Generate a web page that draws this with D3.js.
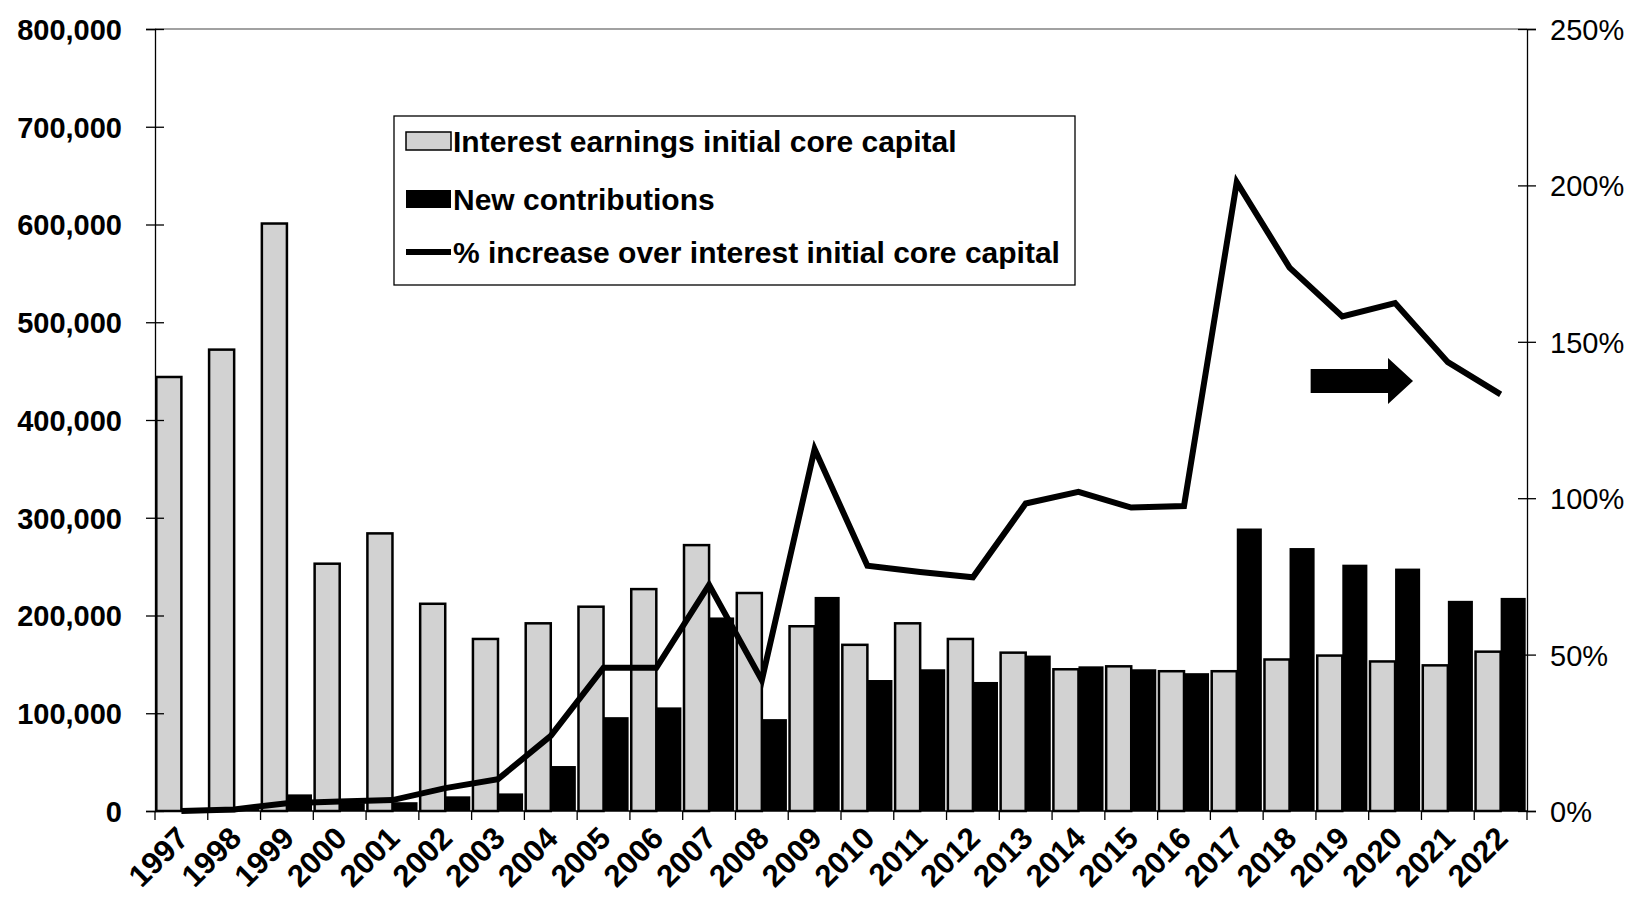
<!DOCTYPE html>
<html>
<head>
<meta charset="utf-8">
<script src="https://cdn.jsdelivr.net/npm/d3@7"></script>
<style>
    body { margin: 0; background: #fff; }
    svg { font-family: "Liberation Sans", Arial, Helvetica, sans-serif; }
</style>
</head>
<body>
<div class="bar-chart"></div>
<script>
const years = ["1997", "1998", "1999", "2000", "2001", "2002", "2003", "2004", "2005",
    "2006", "2007", "2008", "2009", "2010", "2011", "2012", "2013", "2014", "2015",
    "2016", "2017", "2018", "2019", "2020", "2021", "2022"]

// interest earnings on the initial core capital
const interestEarnings = [444000, 472000, 601000, 253000, 284000, 212000, 176000, 192000, 209000,
    227000, 272000, 223000, 189000, 170000, 192000, 176000, 162000, 145000, 148000,
    143000, 143000, 155000, 159000, 153000, 149000, 163000]

const newContributions = [0, 2000, 17000, 8000, 9000, 15000, 18000, 46000, 96000,
    106000, 198000, 94000, 219000, 134000, 145000, 132000, 159000, 148000, 145000,
    141000, 289000, 269000, 252000, 248000, 215000, 218000]

// % increase over interest initial core capital (right axis)
const pctIncrease = [0, 0.5, 2.5, 3, 3.5, 7.3, 10.2, 24, 45.8,
    45.8, 72.3, 41.8, 115.7, 78.4, 76.4, 74.7, 98.3, 102, 97,
    97.5, 201, 173.7, 158.1, 162.4, 143.5, 133.2]

const leftTicks = [0, 100000, 200000, 300000, 400000, 500000, 600000, 700000, 800000]
const rightTicks = [0, 50, 100, 150, 200, 250]

const legendLabels = ["Interest earnings initial core capital", "New contributions",
    "% increase over interest initial core capital"]

// arrow annotation: band units along x, % on right axis
const arrowFrom = 21.9, arrowTo = 23.84, arrowPct = 137.5

function makeChart() {
    const margin = {top: 29, right: 109, bottom: 93, left: 155},
        width = 1636 - margin.left - margin.right,
        height = 904 - margin.top - margin.bottom;

    const grey = "#d2d2d2"

    const svg = d3.select(".bar-chart")
        .append("svg")
            .attr("width", width + margin.left + margin.right)
            .attr("height", height + margin.top + margin.bottom)
        .append("g")
        .attr("transform", "translate(" + margin.left + "," + margin.top + ")");

    const x = d3.scaleBand()
        .range([0, width])
        .domain(years)
        .paddingInner(0.05)
        .paddingOuter(0.025)

    const xSub = d3.scaleBand()
        .domain(["interest", "contrib"])
        .range([0, x.bandwidth()])

    const yLeft = d3.scaleLinear().domain([0, 800000]).range([height, 0])
    const yRight = d3.scaleLinear().domain([0, 250]).range([height, 0])

    const rows = years.map((year, i) => ({
        year: year,
        interest: interestEarnings[i],
        contrib: newContributions[i],
        pct: pctIncrease[i]
    }))

    // top frame line
    svg.append("line")
        .attr("x1", 0).attr("x2", width)
        .attr("y1", 0).attr("y2", 0)
        .attr("stroke", "#444").attr("stroke-width", 1.2)

    // bars
    svg.selectAll(".interest-bar")
        .data(rows)
        .enter()
        .append("rect")
            .attr("class", "interest-bar")
            .attr("x", d => x(d.year) + xSub("interest"))
            .attr("y", d => yLeft(d.interest))
            .attr("width", xSub.bandwidth())
            .attr("height", d => height - yLeft(d.interest))
            .attr("fill", grey)
            .attr("stroke", "#000")
            .attr("stroke-width", 2.5)

    svg.selectAll(".contrib-bar")
        .data(rows)
        .enter()
        .append("rect")
            .attr("class", "contrib-bar")
            .attr("x", d => x(d.year) + xSub("contrib"))
            .attr("y", d => yLeft(d.contrib))
            .attr("width", xSub.bandwidth())
            .attr("height", d => height - yLeft(d.contrib))
            .attr("fill", "#000")

    // baseline and category ticks between bands
    svg.append("line")
        .attr("x1", 0).attr("x2", width)
        .attr("y1", height).attr("y2", height)
        .attr("stroke", "#000").attr("stroke-width", 1.5)

    svg.selectAll(".cat-tick")
        .data(d3.range(years.length + 1))
        .enter()
        .append("line")
            .attr("x1", i => i * x.step())
            .attr("x2", i => i * x.step())
            .attr("y1", height)
            .attr("y2", height + 9)
            .attr("stroke", "#000")
            .attr("stroke-width", 1.3)

    // line series
    const line = d3.line()
        .x(d => x(d.year) + x.bandwidth() / 2)
        .y(d => yRight(d.pct))

    svg.append("path")
        .datum(rows)
        .attr("d", line)
        .attr("fill", "none")
        .attr("stroke", "#000")
        .attr("stroke-width", 6)
        .attr("stroke-linejoin", "miter")

    // left axis
    const leftAxis = svg.append("g")
        .call(d3.axisLeft(yLeft).tickValues(leftTicks).tickFormat(d3.format(",")).tickSize(9).tickPadding(24))
    leftAxis.select(".domain").attr("stroke-width", 1.3)
    leftAxis.selectAll(".tick line").attr("x1", 9).attr("stroke-width", 1.3)
    leftAxis.selectAll("text")
        .attr("font-size", 29)
        .attr("font-weight", "bold")
        .attr("fill", "#000")
        .attr("dy", "0.36em")

    // right axis
    const rightAxis = svg.append("g")
        .attr("transform", "translate(" + width + ",0)")
        .call(d3.axisRight(yRight).tickValues(rightTicks).tickFormat(d => d + "%").tickSize(9).tickPadding(14))
    rightAxis.select(".domain").attr("stroke-width", 1.3)
    rightAxis.selectAll(".tick line").attr("x1", -9).attr("stroke-width", 1.3)
    rightAxis.selectAll("text")
        .attr("font-size", 29)
        .attr("fill", "#000")
        .attr("dy", "0.36em")

    // year labels
    const bottomAxis = svg.append("g")
        .attr("transform", "translate(0," + height + ")")
        .call(d3.axisBottom(x).tickSize(0).tickPadding(0))
    bottomAxis.select(".domain").remove()
    bottomAxis.selectAll("text")
        .attr("font-size", 31)
        .attr("font-weight", "bold")
        .attr("fill", "#000")
        .attr("x", 0)
        .attr("y", 0)
        .attr("dy", 0)
        .style("text-anchor", "end")
        .attr("transform", "translate(9,29) rotate(-45)")

    // arrow annotation
    const ax0 = arrowFrom * x.step(), ax1 = arrowTo * x.step(), ay = yRight(arrowPct)
    const headLen = 25
    svg.append("path")
        .attr("d", "M" + ax0 + "," + (ay - 12) +
            "L" + (ax1 - headLen) + "," + (ay - 12) +
            "L" + (ax1 - headLen) + "," + (ay - 23) +
            "L" + ax1 + "," + ay +
            "L" + (ax1 - headLen) + "," + (ay + 23) +
            "L" + (ax1 - headLen) + "," + (ay + 12) +
            "L" + ax0 + "," + (ay + 12) + "Z")
        .attr("fill", "#000")

    // legend
    const legend = svg.append("g")
        .attr("transform", "translate(" + (394 - margin.left) + "," + (116 - margin.top) + ")")

    legend.append("rect")
        .attr("width", 681)
        .attr("height", 169)
        .attr("fill", "#fff")
        .attr("stroke", "#000")
        .attr("stroke-width", 1.3)

    const rowY = [25, 83, 136]

    legend.append("rect")
        .attr("x", 12).attr("y", rowY[0] - 9)
        .attr("width", 45).attr("height", 18)
        .attr("fill", grey).attr("stroke", "#000").attr("stroke-width", 1.5)

    legend.append("rect")
        .attr("x", 12).attr("y", rowY[1] - 9)
        .attr("width", 45).attr("height", 18)
        .attr("fill", "#000")

    legend.append("line")
        .attr("x1", 12).attr("x2", 57)
        .attr("y1", rowY[2]).attr("y2", rowY[2])
        .attr("stroke", "#000").attr("stroke-width", 6)

    legend.selectAll(".legend-text")
        .data(legendLabels)
        .enter()
        .append("text")
            .attr("class", "legend-text")
            .attr("x", 59)
            .attr("y", (d, i) => rowY[i])
            .attr("dy", "0.36em")
            .attr("font-size", 30)
            .attr("font-weight", "bold")
            .text(d => d)
}

makeChart()
</script>
</body>
</html>
